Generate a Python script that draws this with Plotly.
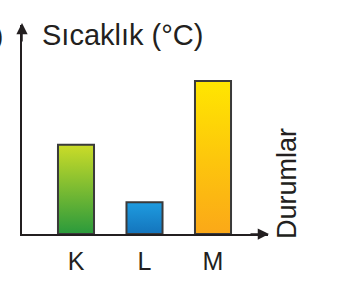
import plotly.graph_objects as go

categories = ["K", "L", "M"]
values = [35, 12.5, 60]
top_colors = ["#cbdc28", "#1e9ce0", "#ffe600"]
bottom_colors = ["#2a9a3c", "#1474bc", "#fba818"]
y_title = "Sıcaklık (°C)"
x_title = "Durumlar"

W, H = 347, 286
L_PX, R_PX, T_PX, B_PX = 22, 268, 25, 234
bar_w = 0.526
ink = "#231f20"
font = "Liberation Sans, Arial, sans-serif"

fig = go.Figure()
for i, (c, v) in enumerate(zip(categories, values)):
    fig.add_trace(go.Scatter(
        x=[i - bar_w / 2, i + bar_w / 2, i + bar_w / 2, i - bar_w / 2, i - bar_w / 2],
        y=[0, 0, v, v, 0],
        mode="lines", fill="toself",
        fillgradient=dict(type="vertical",
                          colorscale=[[0, bottom_colors[i]], [1, top_colors[i]]]),
        line=dict(color="#3a3a3a", width=2),
        hoverinfo="skip", showlegend=False, name=c,
    ))

px_per_cat = 68.5
k_center = 76
x0 = (L_PX - k_center) / px_per_cat
x1 = (R_PX - k_center) / px_per_cat

def px_x(px):
    return (px - L_PX) / (R_PX - L_PX)

def px_y(py):
    return (B_PX - py) / (B_PX - T_PX)

fig.update_layout(
    width=W, height=H,
    margin=dict(l=L_PX, r=W - R_PX, t=T_PX, b=H - B_PX, pad=0),
    paper_bgcolor="white", plot_bgcolor="white",
    font=dict(family=font, color=ink),
    xaxis=dict(range=[x0, x1], showgrid=False, zeroline=False,
               showline=True, linecolor=ink, linewidth=1.8,
               tickvals=list(range(len(categories))), ticktext=categories,
               ticks="outside", ticklen=4, tickcolor="rgba(0,0,0,0)",
               tickfont=dict(size=25, color=ink, family=font)),
    yaxis=dict(range=[0, 82], showgrid=False, zeroline=False,
               showline=True, linecolor=ink, linewidth=1.8,
               showticklabels=False, ticks=""),
)

annotations = [
    # y-axis arrow head
    dict(x=px_x(22), y=px_y(23), xref="paper", yref="paper", text="",
         showarrow=True, ax=0, ay=20, axref="pixel", ayref="pixel",
         arrowhead=2, arrowsize=1.5, arrowwidth=1.5, arrowcolor=ink),
    # x-axis arrow head
    dict(x=px_x(269), y=0, xref="paper", yref="paper", text="",
         showarrow=True, ax=-20, ay=0, axref="pixel", ayref="pixel",
         arrowhead=2, arrowsize=1.5, arrowwidth=1.5, arrowcolor=ink),
    dict(x=px_x(40), y=px_y(35), xref="paper", yref="paper", text=y_title,
         showarrow=False, xanchor="left", yanchor="middle",
         font=dict(size=29, color=ink, family=font)),
    dict(x=px_x(287), y=px_y(184), xref="paper", yref="paper", text=x_title,
         showarrow=False, xanchor="center", yanchor="middle", textangle=-90,
         font=dict(size=27, color=ink, family=font)),
    dict(x=px_x(5), y=px_y(35), xref="paper", yref="paper", text=")",
         showarrow=False, xanchor="right", yanchor="middle",
         font=dict(size=28, color=ink, family=font)),
]
fig.update_layout(annotations=annotations)

fig.write_html("out.html")
